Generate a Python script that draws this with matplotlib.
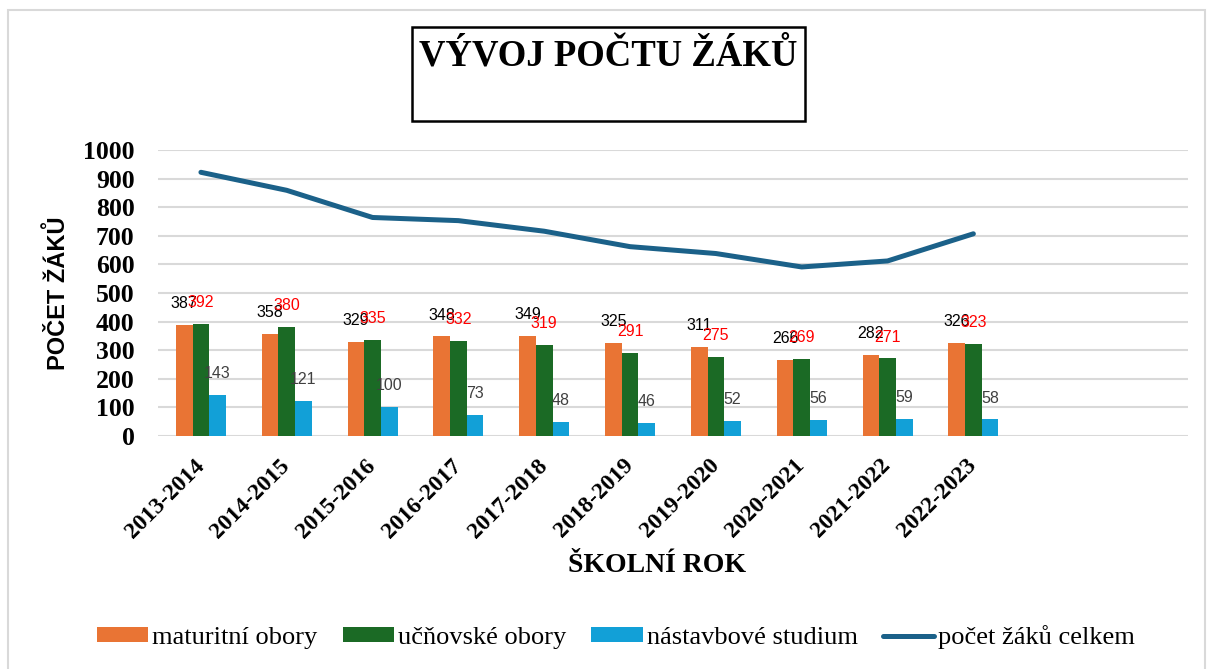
import numpy as np
import matplotlib.pyplot as plt
from matplotlib.patches import Rectangle

# data
years = ["2013-2014", "2014-2015", "2015-2016", "2016-2017", "2017-2018",
         "2018-2019", "2019-2020", "2020-2021", "2021-2022", "2022-2023"]
maturitni = [387, 358, 329, 348, 349, 325, 311, 266, 282, 326]
ucnovske = [392, 380, 335, 332, 319, 291, 275, 269, 271, 323]
nastavbove = [143, 121, 100, 73, 48, 46, 52, 56, 59, 58]
celkem = [922, 859, 764, 753, 716, 662, 638, 591, 612, 707]

c_orange = "#E97434"
c_green = "#1B6A25"
c_blue = "#12A0D7"
c_line = "#1B6189"

serif = "Liberation Serif"
sans = "Liberation Sans"

fig = plt.figure(figsize=(12.08, 6.69), dpi=100)
ax = fig.add_axes([0.1308, 0.3483, 0.8526, 0.4275])

x = np.arange(len(years))
w = 0.194
b1 = ax.bar(x - w, maturitni, w, color=c_orange, label="maturitní obory", zorder=3)
b2 = ax.bar(x, ucnovske, w, color=c_green, label="učňovské obory", zorder=3)
b3 = ax.bar(x + w, nastavbove, w, color=c_blue, label="nástavbové studium", zorder=3)
ln, = ax.plot(x, celkem, color=c_line, lw=3.6, label="počet žáků celkem", zorder=4,
              solid_capstyle="round")

# value labels
for bars, col in [(b1, "black"), (b3, "#404040"), (b2, "red")]:
    for r in bars:
        ax.annotate(f"{int(r.get_height())}",
                    (r.get_x() + r.get_width() / 2, r.get_height()),
                    xytext=(0, 10), textcoords="offset points",
                    ha="center", va="bottom", fontsize=11.5, color=col,
                    family=sans, zorder=5)

ax.set_xlim(-0.5, 11.5)
ax.set_ylim(0, 1000)
ax.set_yticks(range(0, 1001, 100))
ax.set_xticks(x)
ax.set_xticklabels(years, rotation=45, ha="right", va="center",
                   rotation_mode="anchor", family=serif, fontweight="bold",
                   fontsize=17)
for lab in ax.get_yticklabels():
    lab.set_family(serif)
    lab.set_fontweight("bold")
    lab.set_fontsize(18.5)
ax.tick_params(axis="y", length=0, pad=17)
ax.tick_params(axis="x", length=0, pad=19)
ax.grid(axis="y", color="#D9D9D9", lw=1.5, zorder=0)
ax.set_axisbelow(True)
for s in ax.spines.values():
    s.set_visible(False)

ax.set_ylabel("POČET ŽÁKŮ", family=sans, fontweight="bold", fontsize=17,
              labelpad=9)
fig.text(657 / 1208, 1 - 566 / 669, "ŠKOLNÍ ROK", family=serif,
         fontweight="bold", fontsize=20, ha="center", va="center")

# title box
fig.patches.append(Rectangle((412 / 1208, 1 - 121 / 669), 393 / 1208, 94 / 669,
                             transform=fig.transFigure, fill=False,
                             edgecolor="black", lw=1.8))
fig.text(608 / 1208, 1 - 38 / 669, "VÝVOJ POČTU ŽÁKŮ", family=serif,
         fontweight="bold", fontsize=26.5, ha="center", va="top")

# outer frame
fig.patches.append(Rectangle((8 / 1208, -0.05), 1197 / 1208, 1.05 - 10 / 669,
                             transform=fig.transFigure, fill=False,
                             edgecolor="#D9D9D9", lw=1.5))

fig.legend(handles=[b1, b2, b3, ln], loc="center",
           bbox_to_anchor=(0.51, 1 - 637 / 669), ncol=4,
           frameon=False, prop={"family": serif, "size": 19},
           handlelength=1.95, handleheight=0.5, handletextpad=0.15,
           columnspacing=0.95)

fig.savefig("out.png", dpi=100)
